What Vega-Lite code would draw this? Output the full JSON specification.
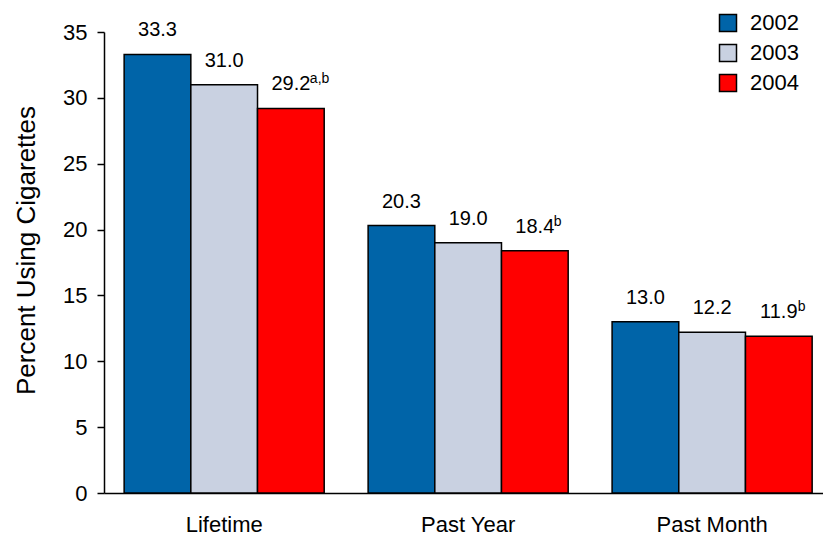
{
  "$schema": "https://vega.github.io/schema/vega-lite/v6.json",
  "width": 719,
  "height": 461,
  "autosize": {"type": "none"},
  "padding": {"left": 104, "top": 32, "right": 0, "bottom": 42},
  "config": {
    "view": {"stroke": null},
    "font": "Liberation Sans",
    "axis": {"grid": false, "domainColor": "#000", "tickColor": "#000", "labelColor": "#000", "titleColor": "#000", "domainWidth": 1.5, "tickWidth": 1.5}
  },
  "data": {
    "values": [
      {"measure": "Lifetime", "year": "2002", "value": 33.3, "label": "33.3", "sup": ""},
      {"measure": "Lifetime", "year": "2003", "value": 31.0, "label": "31.0", "sup": ""},
      {"measure": "Lifetime", "year": "2004", "value": 29.2, "label": "29.2", "sup": "a,b"},
      {"measure": "Past Year", "year": "2002", "value": 20.3, "label": "20.3", "sup": ""},
      {"measure": "Past Year", "year": "2003", "value": 19.0, "label": "19.0", "sup": ""},
      {"measure": "Past Year", "year": "2004", "value": 18.4, "label": "18.4", "sup": "b"},
      {"measure": "Past Month", "year": "2002", "value": 13.0, "label": "13.0", "sup": ""},
      {"measure": "Past Month", "year": "2003", "value": 12.2, "label": "12.2", "sup": ""},
      {"measure": "Past Month", "year": "2004", "value": 11.9, "label": "11.9", "sup": "b"}
    ]
  },
  "encoding": {
    "x": {
      "field": "measure", "type": "nominal",
      "sort": ["Lifetime", "Past Year", "Past Month"],
      "scale": {"paddingInner": 0.18, "paddingOuter": 0.0635, "align": 0.65},
      "axis": {"title": null, "labelAngle": 0, "ticks": false, "labelFontSize": 22, "labelPadding": 21}
    },
    "xOffset": {
      "field": "year", "type": "nominal",
      "sort": ["2002", "2003", "2004"],
      "scale": {"paddingInner": 0, "paddingOuter": 0}
    },
    "y": {
      "field": "value", "type": "quantitative",
      "scale": {"domain": [0, 35], "nice": false},
      "axis": {
        "title": "Percent Using Cigarettes", "titleFontSize": 26, "titleFontWeight": "normal", "titlePadding": 23, "titleY": 218,
        "values": [0, 5, 10, 15, 20, 25, 30, 35], "labelFontSize": 22, "tickSize": 7, "labelPadding": 10
      }
    }
  },
  "layer": [
    {
      "mark": {"type": "bar", "stroke": "#000", "strokeWidth": 1.5},
      "encoding": {
        "color": {
          "field": "year", "type": "nominal",
          "scale": {"domain": ["2002", "2003", "2004"], "range": ["#0064A8", "#C9D1E1", "#FF0000"]},
          "legend": {
            "title": null, "orient": "none", "legendX": 613, "legendY": -20,
            "symbolType": "square", "symbolSize": 289, "symbolStrokeColor": "#000", "symbolStrokeWidth": 1.5,
            "labelFontSize": 22, "labelColor": "#000", "labelOffset": 11, "rowPadding": 6
          }
        }
      }
    },
    {
      "mark": {"type": "text", "fontSize": 20, "align": "center", "baseline": "alphabetic", "dy": -18, "color": "#000"},
      "encoding": {"text": {"field": "label"}}
    },
    {
      "mark": {"type": "text", "fontSize": 14, "align": "left", "baseline": "alphabetic", "dx": 19, "dy": -25, "color": "#000"},
      "encoding": {"text": {"field": "sup"}}
    }
  ]
}
